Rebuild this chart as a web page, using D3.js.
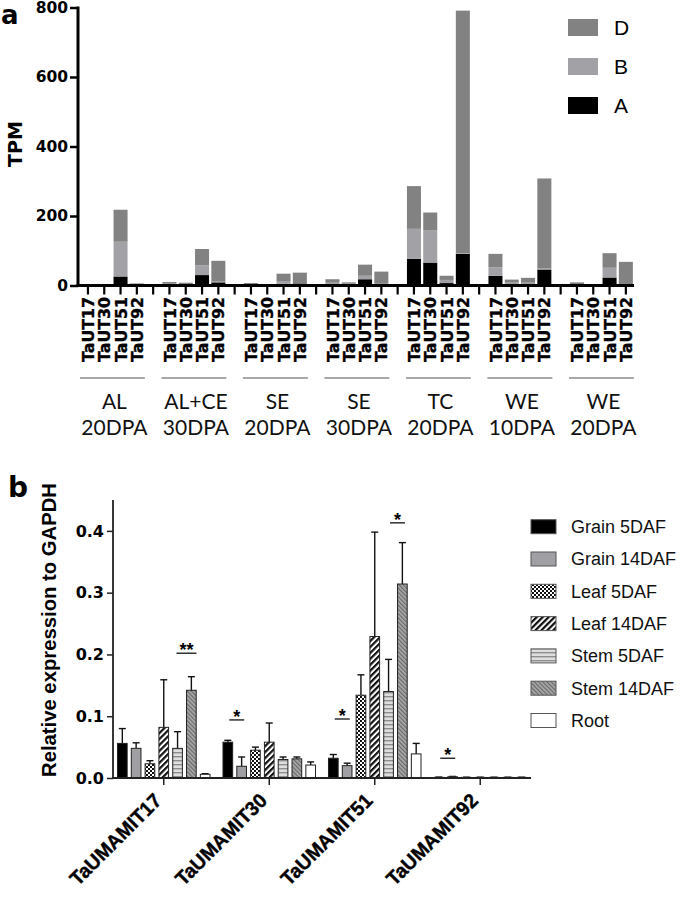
<!DOCTYPE html>
<html><head><meta charset="utf-8">
<script src="https://cdn.jsdelivr.net/npm/d3@7"></script>
<style>body{margin:0;background:#fff} svg{display:block}</style>
</head><body>
<svg id="c" width="685" height="901"></svg>
<script>
// ---------- Panel a data ----------
const groupLine1 = ["AL","AL+CE","SE","SE","TC","WE","WE"];
const groupLine2 = ["20DPA","30DPA","20DPA","30DPA","20DPA","10DPA","20DPA"];
const genesA = ["TaUT17","TaUT30","TaUT51","TaUT92"];
// values per bar, 7 groups x 4 genes (segment sizes, TPM)
const subA = [0.5,0.5,26,2,   1,1,30,9,   1,1,5,6,   3,2,18,4,   77,66,7,91,   28,3,3,46,   1,1,23,3];
const subB = [0.5,0.5,100,1,  4,3,28,2,   3,1,8,1,   5,3,10,1,   86,92,9,2,    24,7,5,4,    2,1,28,1];
const subD = [1,1,92,3,       5,4,47,60,  3,2,21,30, 10,4,32,35, 123,52,12,698, 39,7,14,258, 6,2,42,64];
const yTicksA = [0,200,400,600,800];
const legendKeysA = ["D","B","A"];
const colorsA = {A:"#000000", B:"#a2a2a6", D:"#828282"};

// ---------- Panel b data ----------
const genesB = ["TaUMAMIT17","TaUMAMIT30","TaUMAMIT51","TaUMAMIT92"];
const tissues = ["Grain 5DAF","Grain 14DAF","Leaf 5DAF","Leaf 14DAF","Stem 5DAF","Stem 14DAF","Root"];
const grain5Mean  = [0.056, 0.058, 0.032, 0.001];
const grain5Err   = [0.024, 0.003, 0.006, 0.0005];
const grain14Mean = [0.048, 0.019, 0.020, 0.002];
const grain14Err  = [0.009, 0.015, 0.004, 0.0005];
const leaf5Mean   = [0.023, 0.045, 0.134, 0.001];
const leaf5Err    = [0.005, 0.005, 0.033, 0.0003];
const leaf14Mean  = [0.082, 0.058, 0.229, 0.001];
const leaf14Err   = [0.077, 0.031, 0.169, 0.0003];
const stem5Mean   = [0.048, 0.030, 0.140, 0.001];
const stem5Err    = [0.027, 0.004, 0.052, 0.0003];
const stem14Mean  = [0.142, 0.031, 0.314, 0.001];
const stem14Err   = [0.022, 0.003, 0.067, 0.0003];
const rootMean    = [0.006, 0.021, 0.039, 0.001];
const rootErr     = [0.001, 0.005, 0.017, 0.0003];
const yTicksB = [0, 0.1, 0.2, 0.3, 0.4];
// significance marks: gene, first bar, second bar, line height, label
const sigGene  = ["TaUMAMIT17","TaUMAMIT30","TaUMAMIT51","TaUMAMIT51","TaUMAMIT92"];
const sigFrom  = [4, 0, 0, 4, 0];
const sigTo    = [5, 1, 1, 5, 1];
const sigLevel = [0.202, 0.094, 0.0955, 0.413, 0.032];
const sigLabel = ["**","*","*","*","*"];

const svg = d3.select("#c");
const BOLD = "DejaVu Sans, sans-serif";
const ARIAL = "Liberation Sans, Arial, sans-serif";

// ================= PANEL A =================
const slots = [];
const recs = [];
groupLine1.forEach((g, gi) => {
  genesA.forEach((gene, k) => {
    const i = gi * 4 + k;
    const key = "g" + gi + "-" + k;
    slots.push(key);
    recs.push({key, gene, gi, A: subA[i], B: subB[i], D: subD[i]});
  });
  if (gi < groupLine1.length - 1) slots.push("gap" + gi);
});

const xA = d3.scaleBand().domain(slots).range([79.8, 634]).paddingInner(0.14).paddingOuter(0.07);
const yA = d3.scaleLinear().domain([0, 800]).range([285.5, 7.5]);

const gA = svg.append("g");
const stackA = d3.stack().keys(["A","B","D"])(recs);
gA.selectAll("g.layer").data(stackA).join("g")
  .attr("fill", d => colorsA[d.key])
  .selectAll("rect").data(d => d).join("rect")
  .attr("x", d => xA(d.data.key))
  .attr("width", xA.bandwidth())
  .attr("y", d => yA(d[1]))
  .attr("height", d => Math.max(0, yA(d[0]) - yA(d[1])));

// x ticks (every slot)
const axA = gA.append("g").attr("transform", `translate(0,${yA(0)})`)
  .call(d3.axisBottom(xA).tickSize(9).tickSizeOuter(0).tickFormat(""));
axA.select(".domain").remove();
axA.selectAll(".tick line").attr("stroke", "#000").attr("stroke-width", 2.2);

// y axis
const ayA = gA.append("g").attr("transform", `translate(78,0)`)
  .call(d3.axisLeft(yA).tickValues(yTicksA).tickSize(8).tickSizeOuter(0).tickFormat(d3.format("d")));
ayA.select(".domain").remove();
ayA.selectAll(".tick line").attr("stroke", "#000").attr("stroke-width", 2.5);
ayA.selectAll(".tick text").attr("x", -10).attr("font-family", BOLD).attr("font-weight", "bold")
  .attr("font-size", 15.5).attr("fill", "#000");

// axis lines
gA.append("line").attr("x1", 78).attr("x2", 78).attr("y1", yA(800) - 1).attr("y2", yA(0) + 1.5)
  .attr("stroke", "#000").attr("stroke-width", 3);
gA.append("line").attr("x1", 76.5).attr("x2", 634).attr("y1", yA(0)).attr("y2", yA(0))
  .attr("stroke", "#000").attr("stroke-width", 3);

// gene labels
gA.selectAll("text.gl").data(recs).join("text")
  .attr("class", "gl")
  .attr("transform", d => `translate(${xA(d.key) + xA.bandwidth() / 2},297) rotate(-90)`)
  .attr("text-anchor", "end").attr("dy", "0.37em")
  .attr("font-family", BOLD).attr("font-weight", "bold").attr("font-size", 16.5)
  .attr("stroke", "#000").attr("stroke-width", 0.35)
  .attr("textLength", 65).attr("lengthAdjust", "spacingAndGlyphs")
  .text(d => d.gene);

// group lines and labels
groupLine1.forEach((g, gi) => {
  const x0 = xA("g" + gi + "-0");
  const x1 = xA("g" + gi + "-3") + xA.bandwidth();
  const cx = (x0 + x1) / 2;
  gA.append("line").attr("x1", x0 - 1).attr("x2", x1 + 1).attr("y1", 378).attr("y2", 378)
    .attr("stroke", "#555").attr("stroke-width", 1.2);
  gA.append("text").attr("x", cx + 2).attr("y", 408.5).attr("text-anchor", "middle")
    .attr("font-family", "Lato, Open Sans, sans-serif").attr("font-size", 21).attr("fill", "#111").text(g);
  gA.append("text").attr("x", cx + 2).attr("y", 435).attr("text-anchor", "middle")
    .attr("font-family", "Lato, Open Sans, sans-serif").attr("font-size", 21).attr("fill", "#111").text(groupLine2[gi]);
});

// y label
gA.append("text").attr("transform", `translate(21.5,144) rotate(-90)`).attr("text-anchor", "middle")
  .attr("font-family", BOLD).attr("font-weight", "bold").attr("font-size", 19).text("TPM");

// panel letter
svg.append("text").attr("x", 1).attr("y", 24).attr("font-family", BOLD).attr("font-weight", "bold")
  .attr("font-size", 26).text("a");

// legend A
const legAy = d3.scalePoint().domain(legendKeysA).range([27.5, 105.5]);
legendKeysA.forEach(k => {
  gA.append("rect").attr("x", 568).attr("y", legAy(k) - 8.5).attr("width", 30).attr("height", 17)
    .attr("fill", colorsA[k]);
  gA.append("text").attr("x", 614).attr("y", legAy(k)).attr("dy", "0.36em")
    .attr("font-family", ARIAL).attr("font-size", 21).text(k);
});

// ================= PANEL B =================
const defs = svg.append("defs");
// checker
const pc = defs.append("pattern").attr("id", "checker").attr("patternUnits", "userSpaceOnUse")
  .attr("width", 4).attr("height", 4);
pc.append("rect").attr("width", 4).attr("height", 4).attr("fill", "#fff");
pc.append("rect").attr("width", 2).attr("height", 2).attr("fill", "#111");
pc.append("rect").attr("x", 2).attr("y", 2).attr("width", 2).attr("height", 2).attr("fill", "#111");
// leaf14 diagonal "/"
const pd = defs.append("pattern").attr("id", "diagBlack").attr("patternUnits", "userSpaceOnUse")
  .attr("width", 4.2).attr("height", 4.2).attr("patternTransform", "rotate(45)");
pd.append("rect").attr("width", 4.2).attr("height", 4.2).attr("fill", "#fff");
pd.append("rect").attr("width", 2.2).attr("height", 4.2).attr("fill", "#111");
// stem5 horizontal
const ph = defs.append("pattern").attr("id", "horiz").attr("patternUnits", "userSpaceOnUse")
  .attr("width", 4).attr("height", 4);
ph.append("rect").attr("width", 4).attr("height", 4).attr("fill", "#dedede");
ph.append("rect").attr("width", 4).attr("height", 1.4).attr("fill", "#8e8e8e");
// stem14 diagonal "\"
const pg = defs.append("pattern").attr("id", "diagGray").attr("patternUnits", "userSpaceOnUse")
  .attr("width", 3).attr("height", 3).attr("patternTransform", "rotate(-45)");
pg.append("rect").attr("width", 3).attr("height", 3).attr("fill", "#acacac");
pg.append("rect").attr("width", 1.3).attr("height", 3).attr("fill", "#6a6a6a");

const fillsB = ["#000000", "#a0a0a4", "url(#checker)", "url(#diagBlack)", "url(#horiz)", "url(#diagGray)", "#ffffff"];
const meansB = [grain5Mean, grain14Mean, leaf5Mean, leaf14Mean, stem5Mean, stem14Mean, rootMean];
const errsB  = [grain5Err, grain14Err, leaf5Err, leaf14Err, stem5Err, stem14Err, rootErr];

const x0B = d3.scaleBand().domain(genesB).range([111, 533]);
const x1B = d3.scaleBand().domain(tissues).range([0, x0B.bandwidth()]).paddingInner(0.3).paddingOuter(0.47);
const yB = d3.scaleLinear().domain([0, 0.45]).range([778, 500]);

const barsB = [];
genesB.forEach((g, gi) => tissues.forEach((t, ti) => {
  barsB.push({g, t, ti, v: meansB[ti][gi], e: errsB[ti][gi]});
}));

const gB = svg.append("g");
// error bars (upward)
gB.selectAll("g.eb").data(barsB).join("g").attr("class", "eb").each(function (d) {
  const cx = x0B(d.g) + x1B(d.t) + x1B.bandwidth() / 2;
  const sel = d3.select(this);
  sel.append("line").attr("x1", cx).attr("x2", cx).attr("y1", yB(d.v)).attr("y2", yB(d.v + d.e))
    .attr("stroke", "#111").attr("stroke-width", 1.4);
  sel.append("line").attr("x1", cx - 3.5).attr("x2", cx + 3.5).attr("y1", yB(d.v + d.e)).attr("y2", yB(d.v + d.e))
    .attr("stroke", "#111").attr("stroke-width", 1.4);
});
gB.selectAll("rect.bar").data(barsB).join("rect").attr("class", "bar")
  .attr("x", d => x0B(d.g) + x1B(d.t))
  .attr("width", x1B.bandwidth())
  .attr("y", d => yB(d.v))
  .attr("height", d => yB(0) - yB(d.v))
  .attr("fill", d => fillsB[d.ti])
  .attr("stroke", "#222").attr("stroke-width", 1);

// axes
const ayB = gB.append("g").attr("transform", "translate(113,0)")
  .call(d3.axisLeft(yB).tickValues(yTicksB).tickSize(6).tickSizeOuter(0).tickFormat(d3.format(".1f")));
ayB.select(".domain").remove();
ayB.selectAll(".tick line").attr("stroke", "#222").attr("stroke-width", 1.5);
ayB.selectAll(".tick text").attr("x", -9).attr("font-family", BOLD).attr("font-weight", "bold")
  .attr("font-size", 16).attr("fill", "#000");
gB.append("line").attr("x1", 113).attr("x2", 113).attr("y1", yB(0.45)).attr("y2", yB(0))
  .attr("stroke", "#222").attr("stroke-width", 1.8);

const axB = gB.append("g").attr("transform", `translate(0,${yB(0)})`)
  .call(d3.axisBottom(x0B).tickSize(7).tickSizeOuter(0).tickFormat(""));
axB.select(".domain").remove();
axB.selectAll(".tick line").attr("stroke", "#222").attr("stroke-width", 1.5);
gB.append("line").attr("x1", 112).attr("x2", 531).attr("y1", yB(0)).attr("y2", yB(0))
  .attr("stroke", "#222").attr("stroke-width", 1.8);

// category labels
gB.selectAll("text.cl").data(genesB).join("text").attr("class", "cl")
  .attr("transform", d => `translate(${x0B(d) + x0B.bandwidth() / 2 - 1},802) rotate(-45)`)
  .attr("text-anchor", "end")
  .attr("font-family", ARIAL).attr("font-weight", "bold").attr("font-size", 20)
  .attr("stroke", "#000").attr("stroke-width", 0.4)
  .attr("textLength", 120).attr("lengthAdjust", "spacingAndGlyphs")
  .text(d => d);

// y label
gB.append("text").attr("transform", "translate(56,630) rotate(-90)").attr("text-anchor", "middle")
  .attr("font-family", ARIAL).attr("font-weight", "bold").attr("font-size", 20)
  .attr("textLength", 294).attr("lengthAdjust", "spacingAndGlyphs")
  .text("Relative expression to GAPDH");

// significance
sigGene.forEach((g, i) => {
  const c1 = x0B(g) + x1B(tissues[sigFrom[i]]) + x1B.bandwidth() / 2;
  const c2 = x0B(g) + x1B(tissues[sigTo[i]]) + x1B.bandwidth() / 2;
  const cx = (c1 + c2) / 2 + 2;
  const hw = sigLabel[i].length > 1 ? 10 : 7.5;
  const y = yB(sigLevel[i]);
  gB.append("line").attr("x1", cx - hw).attr("x2", cx + hw).attr("y1", y).attr("y2", y)
    .attr("stroke", "#111").attr("stroke-width", 1.3);
  gB.append("text").attr("x", cx).attr("y", y + 3).attr("text-anchor", "middle")
    .attr("font-family", ARIAL).attr("font-weight", "bold").attr("font-size", 18).text(sigLabel[i]);
});

// legend B
const legBy = d3.scalePoint().domain(tissues).range([526.7, 720.5]);
tissues.forEach((t, i) => {
  gB.append("rect").attr("x", 531).attr("y", legBy(t) - 7).attr("width", 25).attr("height", 14)
    .attr("fill", fillsB[i]).attr("stroke", "#555").attr("stroke-width", 1);
  gB.append("text").attr("x", 571).attr("y", legBy(t)).attr("dy", "0.36em")
    .attr("font-family", ARIAL).attr("font-size", 18).attr("fill", "#111").text(t);
});

// panel letter b
svg.append("text").attr("x", 8).attr("y", 497).attr("font-family", BOLD).attr("font-weight", "bold")
  .attr("font-size", 28).text("b");
</script>
</body></html>
